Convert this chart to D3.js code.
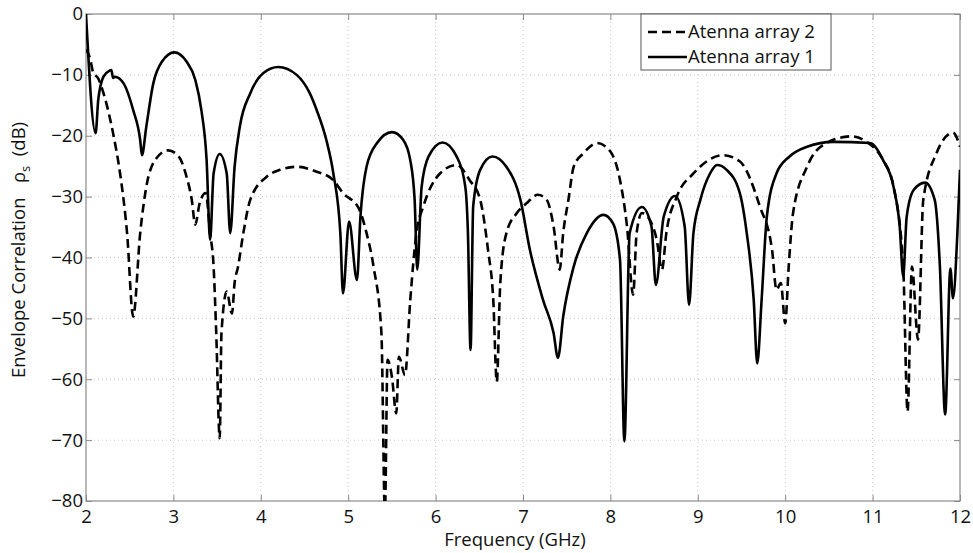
<!DOCTYPE html>
<html lang="en">
<head>
<meta charset="utf-8">
<title>Envelope Correlation</title>
<style type="text/css">
body { margin: 0; background: #fff; }
text { font-family: "Open Sans", "Noto Sans", sans-serif; fill: #111; }
.grid line { stroke: #c8c8c8; stroke-dasharray: 1,3; stroke-width: 1; }
.frame { fill: none; stroke: #8a8a8a; stroke-width: 1.2; }
.tick line { stroke: #8a8a8a; }
.series { fill: none; stroke: #000; stroke-width: 2.6; stroke-linejoin: round; }
.dashed { stroke-dasharray: 9,5; }
</style>
<script type="text/javascript" src="https://cdn.jsdelivr.net/npm/d3@7"></script>
</head>
<body>
<script type="text/javascript">
// Atenna array 1 (solid)
var freq1 = [2.0, 2.11, 2.14, 2.20, 2.27, 2.29, 2.31, 2.33, 2.43, 2.54, 2.62, 2.64,
             2.69, 2.77, 2.87, 3.01, 3.15, 3.25, 3.32, 3.38, 3.42,
             3.46, 3.53, 3.61, 3.65,
             3.70, 3.76, 3.88, 4.03, 4.20, 4.41, 4.56, 4.64, 4.75, 4.83, 4.91, 4.94,
             5.01, 5.10,
             5.14, 5.21, 5.33, 5.50, 5.63, 5.71, 5.76, 5.79,
             5.84, 5.92, 6.08, 6.24, 6.34, 6.37, 6.40,
             6.43, 6.51, 6.65, 6.81, 6.97, 7.08, 7.23, 7.35, 7.40,
             7.46, 7.58, 7.73, 7.92, 8.03, 8.11, 8.16,
             8.22, 8.36, 8.47, 8.52,
             8.61, 8.74, 8.85, 8.90,
             8.95, 9.03, 9.14, 9.22, 9.33, 9.48, 9.56, 9.64, 9.68,
             9.73, 9.79, 9.90, 10.05, 10.25, 10.55, 10.97, 11.12, 11.24, 11.31, 11.35,
             11.39, 11.47, 11.60, 11.71, 11.77, 11.83,
             11.89, 11.92, 11.97, 12.0];
var corr1 = [0, -19.6, -14.1, -10.3, -9.3, -9.2, -10.5, -10.3, -11.4, -15.8, -20.7, -23.2,
             -18.5, -11.4, -7.8, -6.3, -7.8, -10.8, -15.8, -24.0, -37.1,
             -26.2, -23.0, -26.2, -36.0,
             -25.1, -18.5, -13.0, -9.7, -8.7, -10.0, -13.0, -15.8, -20.7, -26.2, -36.0, -45.9,
             -34.1, -43.7,
             -33.3, -25.1, -21.2, -19.4, -20.7, -24.0, -30.5, -42.0,
             -28.4, -23.4, -21.1, -23.4, -28.4, -36.0, -55.2,
             -31.6, -25.6, -23.4, -25.1, -30.5, -38.8, -47.0, -52.4, -56.5,
             -49.7, -41.5, -36.0, -33.0, -34.4, -40.4, -70.2,
             -36.0, -31.7, -34.9, -44.5,
             -33.3, -29.9, -34.9, -47.8,
             -36.0, -30.5, -26.2, -24.8, -25.6, -29.4, -36.0, -47.0, -57.4,
             -47.0, -33.3, -26.2, -23.4, -21.8, -21.0, -21.2, -24.0, -28.4, -34.9, -43.1,
             -33.3, -28.9, -27.7, -30.5, -41.5, -65.8,
             -41.8, -46.7, -36.0, -25.6];

// Atenna array 2 (dashed)
var freq2 = [2.0, 2.05, 2.08, 2.14, 2.20, 2.31, 2.39, 2.47, 2.54,
             2.62, 2.69, 2.79, 2.94, 3.06, 3.15, 3.21, 3.25,
             3.30, 3.37, 3.42, 3.46, 3.49, 3.53,
             3.55, 3.61, 3.67, 3.70, 3.74, 3.80, 3.88, 4.07, 4.22, 4.41, 4.64, 4.83, 4.94,
             5.12, 5.21, 5.29, 5.38, 5.42, 5.45, 5.50, 5.55, 5.58, 5.65,
             5.71, 5.78, 5.86, 6.05, 6.24, 6.39, 6.51, 6.60, 6.66, 6.70,
             6.74, 6.81, 6.93, 7.04, 7.17, 7.27, 7.35, 7.42,
             7.46, 7.52, 7.58, 7.69, 7.85, 8.0, 8.11, 8.19, 8.26,
             8.30, 8.36, 8.45, 8.53, 8.59,
             8.64, 8.76, 8.95, 9.29, 9.48, 9.71, 9.85, 9.90, 9.95, 10.0,
             10.04, 10.09, 10.25, 10.47, 10.76, 10.93, 11.12, 11.24, 11.35, 11.40,
             11.45, 11.52, 11.58, 11.73, 11.92, 12.0];
var corr2 = [-5.8, -7.5, -9.5, -10.6, -13.0, -19.6, -26.2, -36.0, -49.7,
             -36.0, -28.4, -24.0, -22.4, -23.4, -26.7, -30.5, -34.6,
             -31.1, -29.4, -36.0, -41.5, -52.4, -69.7,
             -52.4, -45.6, -49.2, -44.2, -41.5, -36.0, -30.5, -26.7, -25.6, -25.1, -25.9, -27.3, -29.4,
             -31.9, -36.0, -41.5, -52.4, -82.0, -56.8, -59.6, -65.6, -56.3, -59.3,
             -47.0, -36.0, -31.6, -26.2, -24.8, -27.3, -30.5, -38.8, -47.0, -60.4,
             -44.2, -36.0, -32.7, -31.1, -29.7, -30.5, -34.9, -42.0,
             -36.0, -30.5, -25.1, -22.9, -21.2, -22.6, -27.3, -34.9, -46.1,
             -36.0, -32.7, -33.8, -37.1, -42.0,
             -36.0, -30.0, -26.2, -23.2, -24.2, -31.6, -38.8, -45.3, -44.2, -50.8,
             -41.5, -32.7, -25.1, -21.2, -20.1, -21.0, -24.0, -28.4, -41.5, -65.3,
             -41.5, -53.5, -30.5, -22.9, -19.5, -21.8];

var xTicks = [2, 3, 4, 5, 6, 7, 8, 9, 10, 11, 12];
var yTicks = [0, -10, -20, -30, -40, -50, -60, -70, -80];
var seriesNames = ["Atenna array 2", "Atenna array 1"];

var w = 973, h = 553;
var mLeft = 86, mRight = 960, mTop = 14, mBottom = 501;

var svg = d3.select("body").append("svg")
            .attr("width", w)
            .attr("height", h);

var x = d3.scaleLinear().domain([2, 12]).range([mLeft, mRight]);
var y = d3.scaleLinear().domain([-80, 0]).range([mBottom, mTop]);

// dotted grid
var grid = svg.append("g").attr("class", "grid");
grid.selectAll("line.gx").data(xTicks.slice(1, -1)).enter().append("line")
    .attr("class", "gx")
    .attr("x1", function(d) { return x(d); }).attr("x2", function(d) { return x(d); })
    .attr("y1", mTop).attr("y2", mBottom);
grid.selectAll("line.gy").data(yTicks.slice(1, -1)).enter().append("line")
    .attr("class", "gy")
    .attr("x1", mLeft).attr("x2", mRight)
    .attr("y1", function(d) { return y(d); }).attr("y2", function(d) { return y(d); });

// axes, ticks inside like matlab
var xAxis = svg.append("g").attr("transform", "translate(0," + mBottom + ")")
    .call(d3.axisBottom(x).tickValues(xTicks).tickSizeInner(-6).tickSizeOuter(0).tickPadding(9));
var xTop = svg.append("g").attr("transform", "translate(0," + mTop + ")")
    .call(d3.axisTop(x).tickValues(xTicks).tickSizeInner(-6).tickSizeOuter(0).tickFormat(""));
var yAxis = svg.append("g").attr("transform", "translate(" + mLeft + ",0)")
    .call(d3.axisLeft(y).tickValues(yTicks).tickSizeInner(-6).tickSizeOuter(0).tickPadding(3));
var yRight = svg.append("g").attr("transform", "translate(" + mRight + ",0)")
    .call(d3.axisRight(y).tickValues(yTicks).tickSizeInner(-6).tickSizeOuter(0).tickFormat(""));

[xAxis, xTop, yAxis, yRight].forEach(function(g) {
  g.select(".domain").remove();
  g.selectAll("text").style("font-size", "18.5px").attr("fill", "#111");
});

svg.append("rect").attr("class", "frame")
   .attr("x", mLeft).attr("y", mTop)
   .attr("width", mRight - mLeft).attr("height", mBottom - mTop);

// curves
svg.append("clipPath").attr("id", "plotclip").append("rect")
   .attr("x", mLeft).attr("y", mTop).attr("width", mRight - mLeft).attr("height", mBottom - mTop);

var line = d3.line()
    .x(function(d) { return x(d[0]); })
    .y(function(d) { return y(d[1]); })
    .curve(d3.curveMonotoneX);

var data2 = freq2.map(function(f, i) { return [f, corr2[i]]; });
var data1 = freq1.map(function(f, i) { return [f, corr1[i]]; });

var plot = svg.append("g").attr("clip-path", "url(#plotclip)");
plot.append("path").datum(data2).attr("class", "series dashed").attr("d", line);
plot.append("path").datum(data1).attr("class", "series").attr("d", line);

// legend
var lg = svg.append("g").attr("transform", "translate(641,14)");
lg.append("rect").attr("width", 190).attr("height", 56)
  .attr("fill", "#fff").attr("stroke", "#555").attr("stroke-width", 1);
lg.selectAll("line").data(seriesNames).enter().append("line")
  .attr("class", function(d, i) { return i == 0 ? "series dashed" : "series"; })
  .attr("x1", 7).attr("x2", 46)
  .attr("y1", function(d, i) { return 18 + i * 25; })
  .attr("y2", function(d, i) { return 18 + i * 25; });
lg.selectAll("text").data(seriesNames).enter().append("text")
  .attr("x", 47)
  .attr("y", function(d, i) { return 24 + i * 25; })
  .style("font-size", "18.5px")
  .text(function(d) { return d; });

// axis labels
svg.append("text")
   .attr("x", 515).attr("y", 546)
   .attr("text-anchor", "middle")
   .style("font-size", "18.5px")
   .text("Frequency (GHz)");

var yl = svg.append("text")
   .attr("transform", "translate(25,250) rotate(-90)")
   .attr("text-anchor", "middle")
   .style("font-size", "18.5px");
yl.append("tspan").text("Envelope Correlation \u00a0\u00a0\u03c1");
yl.append("tspan").attr("dy", 5).style("font-size", "13px").text("s");
yl.append("tspan").attr("dy", -5).text(" \u00a0(dB)");
</script>
</body>
</html>
